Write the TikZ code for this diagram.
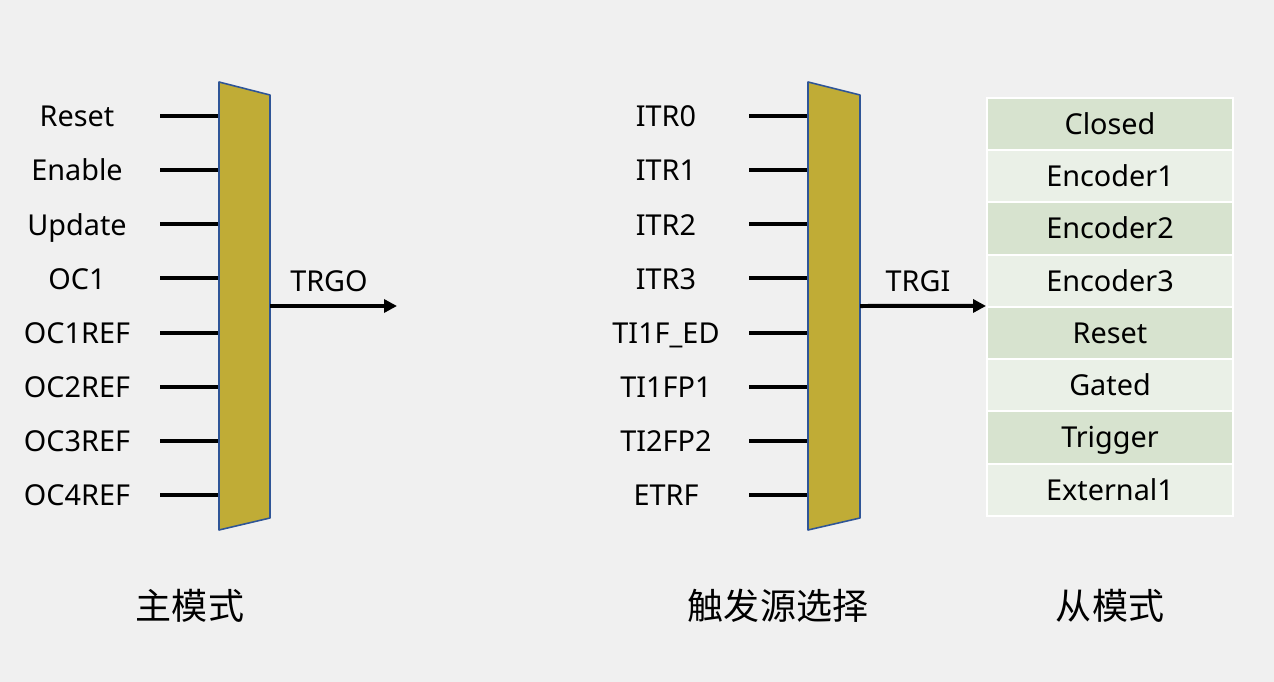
\documentclass[tikz,border=0pt]{standalone}
\usepackage{fontspec}
\setmainfont{Noto Sans}
\newfontfamily\cjk{Noto Sans CJK SC}
\usetikzlibrary{arrows.meta}
\definecolor{bggray}{HTML}{F0F0F0}
\definecolor{muxgold}{HTML}{C0AC36}
\definecolor{muxblue}{HTML}{2F5597}
\definecolor{rowdark}{HTML}{D7E3CF}
\definecolor{rowlight}{HTML}{EAF0E7}

\tikzset{
  inlab/.style={anchor=mid, yshift=-1.2mm, font=\fontsize{16.4}{19}\selectfont},
  inwire/.style={black, line width=0.8mm},
  outwire/.style={black, line width=0.8mm, -{Triangle[length=2.6mm,width=2.6mm]}},
  muxbody/.style={fill=muxgold, draw=muxblue, line width=0.9pt, line join=round},
  moderow/.style={draw=white, line width=0.4mm, minimum width=4.92cm, minimum height=1.045cm, inner sep=0pt, text height=15pt, text depth=3.2pt, font=\fontsize{16.4}{19}\selectfont},
  caption/.style={font=\cjk\fontsize{20.5}{24}\selectfont}
}

\begin{document}
\begin{tikzpicture}[x=0.02cm, y=-0.02cm]
        \fill[bggray] (0,0) rectangle (1274,682);
        \useasboundingbox (0,0) rectangle (1274,682);
        % master mode
        \foreach \lab [count=\i from 0] in {Reset,Enable,Update,OC1,OC1REF,OC2REF,OC3REF,OC4REF}{
            \node[inlab] (min\i) at (77,116+54.15*\i) {\lab};
            \coordinate (ma\i) at (160,116+54.15*\i);
            \coordinate (mb\i) at (219,116+54.15*\i);
            \draw[inwire] (ma\i) -- (mb\i);
        }
        \draw[muxbody] (219,82) -- (270,95) -- (270,518) -- (219,530) -- cycle;
        \coordinate (mout) at (270,306);
        \coordinate (mend) at (397,306);
        \draw[outwire] (mout) -- (mend);
        \node[inlab] (trgo) at (329,281) {TRGO};
        % trigger selection
        \foreach \lab [count=\i from 0] in {ITR0,ITR1,ITR2,ITR3,TI1F\_ED,TI1FP1,TI2FP2,ETRF}{
            \node[inlab] (sin\i) at (666,116+54.15*\i) {\lab};
            \coordinate (sa\i) at (749,116+54.15*\i);
            \coordinate (sb\i) at (808,116+54.15*\i);
            \draw[inwire] (sa\i) -- (sb\i);
        }
        \draw[muxbody] (808,82) -- (860,95) -- (860,518) -- (808,530) -- cycle;
        % slave modes
        \foreach \lab/\col [count=\i from 0] in {Closed/rowdark,Encoder1/rowlight,Encoder2/rowdark,Encoder3/rowlight,Reset/rowdark,Gated/rowlight,Trigger/rowdark,External1/rowlight}{
            \node[moderow, fill=\col] (row\i) at (1110,98+52.25*\i+26.1) {\lab};
        }
        \coordinate (sout) at (860,306);
        \draw[outwire] (sout) -- (row4.north west);
        \node[inlab] (trgi) at (918,281) {TRGI};
        % captions
        \node[caption] (mcap) at (190,606) {主模式};
        \node[caption] (scap) at (778,606) {触发源选择};
        \node[caption] (rcap) at (1110,606) {从模式};
    \end{tikzpicture}
\end{document}
